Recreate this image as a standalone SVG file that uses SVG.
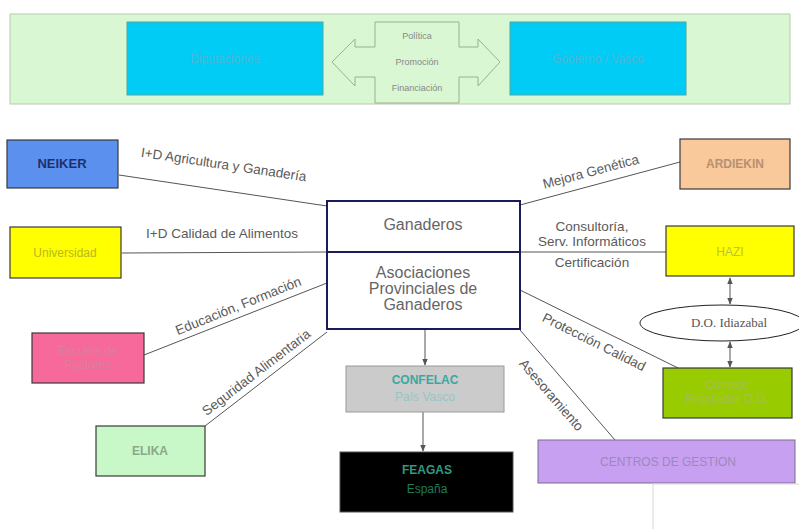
<svg xmlns="http://www.w3.org/2000/svg" width="799" height="529" viewBox="0 0 799 529">
<style>
.lbl{font-family:"Liberation Sans",Arial,sans-serif;font-size:13.5px;fill:#5a5a5a}
.node{stroke:#3a3a3a;stroke-width:1.2}
.faint{font-family:"Liberation Sans",Arial,sans-serif;font-size:12px;text-anchor:middle}
.conn{stroke:#555;stroke-width:1;fill:none}
.big{font-family:"Liberation Sans",Arial,sans-serif;font-size:16px;fill:#666;text-anchor:middle}
</style>
<defs>
<marker id="ah" viewBox="0 0 10 10" refX="9" refY="5" markerWidth="7" markerHeight="7" orient="auto-start-reverse">
<path d="M0,1 L10,5 L0,9 z" fill="#555"/>
</marker>
</defs>
<rect width="799" height="529" fill="#fff"/>

<g id="top-band">
<rect x="10" y="14" width="780" height="90" fill="#d8f7d2" stroke="#b8ccb0" stroke-width="1"/>
</g>
<g id="left-top">
<rect x="127" y="22" width="196" height="73" fill="#00ccf5" stroke="#4fa9a0" stroke-width="1"/>
<text class="faint" x="225" y="63" fill="#4bb8d8">Diputaciones</text>
</g>
<g id="right-top">
<rect x="510" y="22" width="176" height="73" fill="#00ccf5" stroke="#4fa9a0" stroke-width="1"/>
<text class="faint" x="598" y="63" fill="#4bb8d8">Gobierno / Vasco</text>
</g>
<g id="cross-arrow">
<path d="M375,22 H459 V47 H478 V39 L500,62 L478,86 V77 H459 V103 H375 V77 H355 V86 L332,62 L355,39 V47 H375 Z" fill="#d8f7d2" stroke="#9cb094" stroke-width="1"/>
<text x="417" y="39" font-family="Liberation Sans,Arial,sans-serif" font-size="9" fill="#888" text-anchor="middle">Política</text>
<text x="417" y="65" font-family="Liberation Sans,Arial,sans-serif" font-size="9" fill="#888" text-anchor="middle">Promoción</text>
<text x="417" y="91" font-family="Liberation Sans,Arial,sans-serif" font-size="9" fill="#888" text-anchor="middle">Financiación</text>
</g>

<g id="connectors">
<line class="conn" x1="119" y1="175" x2="327" y2="206"/>
<line class="conn" x1="122" y1="253" x2="327" y2="252"/>
<line class="conn" x1="520" y1="205" x2="680" y2="162"/>
<line class="conn" x1="520" y1="252" x2="666" y2="252"/>
<line class="conn" x1="144" y1="355" x2="327" y2="283"/>
<line class="conn" x1="205" y1="426" x2="327" y2="332"/>
<line class="conn" x1="520" y1="290" x2="678" y2="368"/>
<line class="conn" x1="520" y1="330" x2="615" y2="440"/>
<line class="conn" x1="425" y1="329" x2="425" y2="365" marker-end="url(#ah)"/>
<line class="conn" x1="423" y1="412" x2="423" y2="451" marker-end="url(#ah)"/>
<line class="conn" x1="730" y1="278" x2="730" y2="304" marker-start="url(#ah)" marker-end="url(#ah)"/>
<line class="conn" x1="730" y1="342" x2="730" y2="367" marker-start="url(#ah)" marker-end="url(#ah)"/>
<text class="lbl" transform="translate(223,169) rotate(8.5)" text-anchor="middle">I+D Agricultura y Ganadería</text>
<text class="lbl" x="222" y="238" text-anchor="middle">I+D Calidad de Alimentos</text>
<text class="lbl" transform="translate(592,176) rotate(-15)" text-anchor="middle">Mejora Genética</text>
<text class="lbl" x="592" y="231" text-anchor="middle">Consultoría,</text>
<text class="lbl" x="592" y="246" text-anchor="middle">Serv. Informáticos</text>
<text class="lbl" x="592" y="267" text-anchor="middle">Certificación</text>
<text class="lbl" transform="translate(240,310) rotate(-22)" text-anchor="middle">Educación, Formación</text>
<text class="lbl" transform="translate(259,376) rotate(-37.5)" text-anchor="middle">Seguridad Alimentaria</text>
<text class="lbl" transform="translate(592,346) rotate(26.5)" text-anchor="middle">Protección Calidad</text>
<text class="lbl" transform="translate(548,398) rotate(49)" text-anchor="middle">Asesoramiento</text>
</g>

<g id="neiker">
<rect class="node" x="7" y="140" width="111" height="48" fill="#5b90ee"/>
<text x="62" y="168" font-family="Liberation Sans,Arial,sans-serif" font-size="13" font-weight="bold" fill="#1c2f6e" text-anchor="middle">NEIKER</text>
</g>
<g id="universidad">
<rect class="node" x="10" y="227" width="111" height="51" fill="#ffff00"/>
<text class="faint" x="65" y="257" fill="#b8b820">Universidad</text>
</g>
<g id="ganaderos">
<rect x="327" y="201" width="193" height="51" fill="#fff" stroke="#1a1a5c" stroke-width="2"/>
<text class="big" x="423" y="230" font-size="17">Ganaderos</text>
</g>
<g id="asociaciones">
<rect x="327" y="252" width="193" height="77" fill="#fff" stroke="#1a1a5c" stroke-width="2"/>
<text class="big" x="423" y="278" font-size="15">Asociaciones</text>
<text class="big" x="423" y="294" font-size="15">Provinciales  de</text>
<text class="big" x="423" y="310" font-size="15">Ganaderos</text>
</g>
<g id="ardiekin">
<rect class="node" x="680" y="139" width="110" height="50" fill="#f9c89b"/>
<text class="faint" x="735" y="168" fill="#b89070" font-weight="bold">ARDIEKIN</text>
</g>
<g id="hazi">
<rect class="node" x="666" y="226" width="128" height="50" fill="#ffff00"/>
<text class="faint" x="730" y="256" fill="#c0c040">HAZI</text>
</g>
<g id="do-idiazabal">
<ellipse cx="722" cy="323" rx="82" ry="18" fill="#fff" stroke="#222" stroke-width="1"/>
<text x="729" y="327" font-family="Liberation Serif,'Times New Roman',serif" font-size="13" fill="#555" text-anchor="middle">D.O. Idiazabal</text>
</g>
<g id="consejo">
<rect class="node" x="663" y="368" width="129" height="50" fill="#99cc00"/>
<text class="faint" x="727" y="389" fill="#a6be50" font-size="10">Consejo</text>
<text class="faint" x="727" y="403" fill="#a6be50" font-size="10">Regulador D.O.</text>
</g>
<g id="pastores">
<rect class="node" x="32" y="333" width="112" height="50" fill="#f7699a"/>
<text class="faint" x="88" y="355" fill="#d8809a" font-size="11">Escuela de</text>
<text class="faint" x="88" y="369" fill="#d8809a" font-size="11">Pastores</text>
</g>
<g id="elika">
<rect class="node" x="96" y="426" width="109" height="50" fill="#c8f7c8"/>
<text class="faint" x="150" y="455" fill="#8aa88a" font-weight="bold">ELIKA</text>
</g>
<g id="confelac">
<rect x="346" y="366" width="158" height="46" fill="#cbcbcb" stroke="#9a9a9a" stroke-width="1"/>
<text class="faint" x="425" y="384" fill="#3aa8a0" font-weight="bold" font-size="13">CONFELAC</text>
<text class="faint" x="425" y="401" fill="#8fc8c8" font-size="9">País Vasco</text>
</g>
<g id="feagas">
<rect x="340" y="452" width="173" height="60" fill="#000" stroke="#555" stroke-width="1"/>
<text class="faint" x="427" y="474" fill="#2f9a80" font-weight="bold" font-size="14">FEAGAS</text>
<text class="faint" x="427" y="493" fill="#1f7a55" font-size="9">España</text>
</g>
<g id="centros">
<rect x="538" y="440" width="257" height="43" fill="#c8a0f2" stroke="#7a6a90" stroke-width="1"/>
<text class="faint" x="668" y="466" fill="#9a8ab8" font-size="13">CENTROS DE GESTION</text>
</g>
<g id="corner-box">
<rect x="653" y="484" width="150" height="50" fill="#fff" stroke="#d8d8d8" stroke-width="1"/>
</g>
</svg>
